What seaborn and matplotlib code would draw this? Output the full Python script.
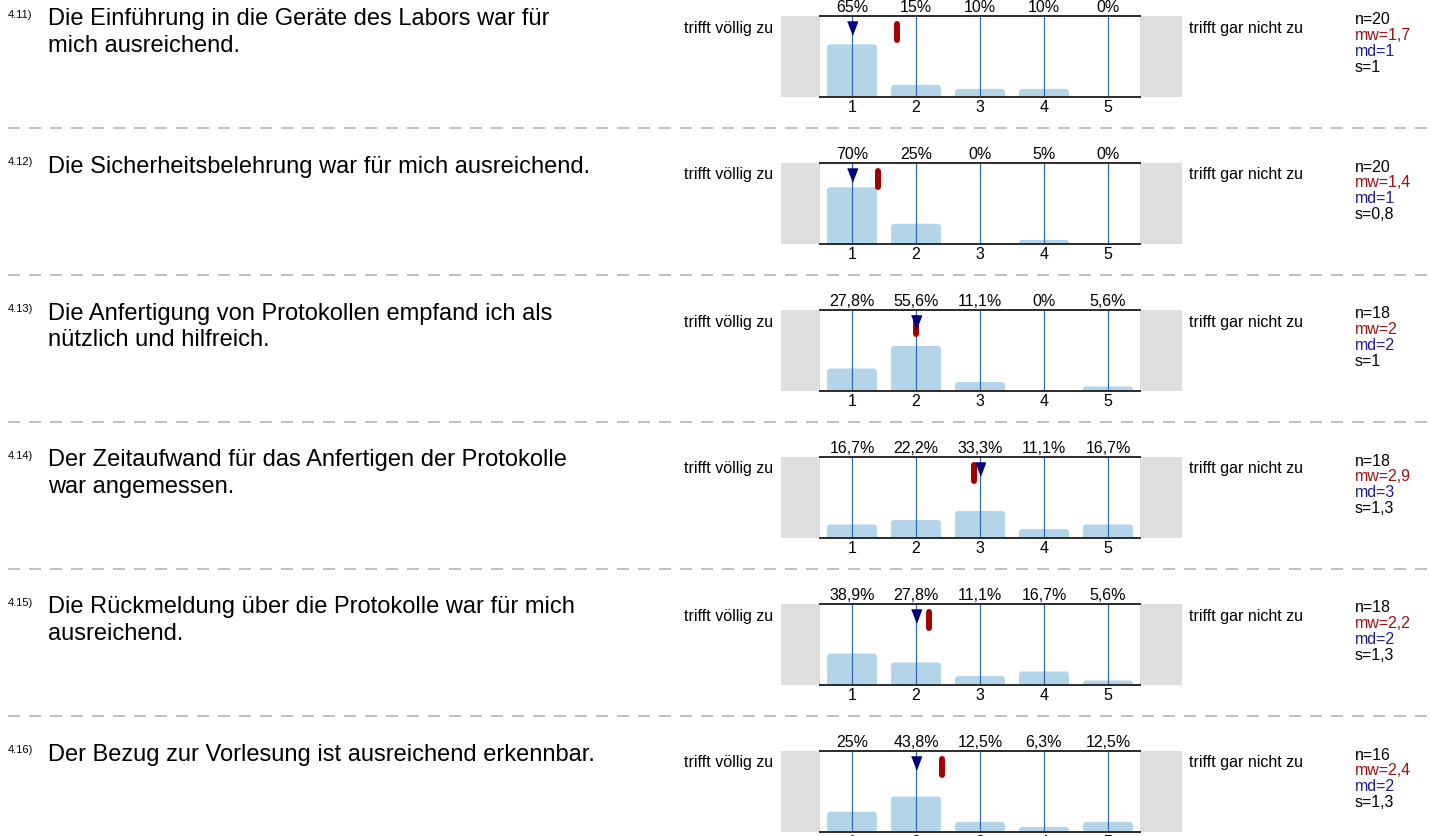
import matplotlib
matplotlib.use("Agg")
import matplotlib.pyplot as plt
import pandas as pd
import seaborn as sns
from matplotlib.patches import FancyBboxPatch, Rectangle
from matplotlib.lines import Line2D

# ---- survey data -------------------------------------------------------
item_ids = ["4.11)", "4.12)", "4.13)", "4.14)", "4.15)", "4.16)"]
questions = [
    "Die Einführung in die Geräte des Labors war für\nmich ausreichend.",
    "Die Sicherheitsbelehrung war für mich ausreichend.",
    "Die Anfertigung von Protokollen empfand ich als\nnützlich und hilfreich.",
    "Der Zeitaufwand für das Anfertigen der Protokolle\nwar angemessen.",
    "Die Rückmeldung über die Protokolle war für mich\nausreichend.",
    "Der Bezug zur Vorlesung ist ausreichend erkennbar.",
]
scale_points = [1, 2, 3, 4, 5]
pct_411 = [65, 15, 10, 10, 0]
pct_412 = [70, 25, 0, 5, 0]
pct_413 = [27.8, 55.6, 11.1, 0, 5.6]
pct_414 = [16.7, 22.2, 33.3, 11.1, 16.7]
pct_415 = [38.9, 27.8, 11.1, 16.7, 5.6]
pct_416 = [25, 43.8, 12.5, 6.3, 12.5]
n_values = [20, 20, 18, 18, 18, 16]
means = [1.7, 1.4, 2.0, 2.9, 2.2, 2.4]
medians = [1, 1, 2, 3, 2, 2]
std_devs = [1, 0.8, 1, 1.3, 1.3, 1.3]
pole_left = "trifft völlig zu"
pole_right = "trifft gar nicht zu"

percentages = [pct_411, pct_412, pct_413, pct_414, pct_415, pct_416]

# ---- styling -----------------------------------------------------------
W, H = 1431, 836
BAR = "#b4d4ea"
GRID_BLUE = "#2f6aab"
FRAME = "#2b2b2b"
SIDE_GREY = "#dedede"
MEAN_RED = "#a50000"
MEDIAN_BLUE = "#00007a"
MW_TEXT = "#9b1010"
MD_TEXT = "#1c1c8e"
SMALL = 11.5

sns.set_theme(style="white")
plt.rcParams["font.family"] = ["Liberation Sans", "DejaVu Sans"]

fig = plt.figure(figsize=(W / 100, H / 100), dpi=100)
fig.patch.set_facecolor("white")


def fx(x):
    return x / W


def fy(y):
    return 1 - y / H


def de(v):
    return ("%g" % v).replace(".", ",")


STEP = 147
AX_L, AX_W, AX_H = 820, 320, 81
px_x = AX_W / 5.0
px_y = AX_H / 100.0

tri = [(-0.38, 0.5), (0.38, 0.5), (0.0, -0.5)]

for k in range(len(item_ids)):
    dy = STEP * k
    top = 16 + dy
    bot = top + AX_H
    ax = fig.add_axes([fx(AX_L), fy(bot), AX_W / W, AX_H / H])
    ax.set_facecolor("white")

    df = pd.DataFrame({"Antwort": scale_points, "Anteil": percentages[k]})
    sns.barplot(data=df, x="Antwort", y="Anteil", native_scale=True,
                width=0.78, color=BAR, saturation=1, errorbar=None, ax=ax)

    # give the bars rounded tops
    r = 3.5 / px_x
    ext = 6 / px_y
    for p in list(ax.patches):
        x0, w, h = p.get_x(), p.get_width(), p.get_height()
        p.remove()
        if h <= 0:
            continue
        ax.add_patch(FancyBboxPatch((x0, -ext), w, h + ext,
                                    boxstyle=f"round,pad=0,rounding_size={r}",
                                    mutation_aspect=px_x / px_y,
                                    fc=BAR, ec="none", zorder=1))

    for c in scale_points:
        ax.axvline(c, color=GRID_BLUE, lw=0.9, zorder=2)

    ax.set_xlim(0.5, 5.5)
    ax.set_ylim(0, 100)
    ax.set_xlabel("")
    ax.set_ylabel("")
    ax.set_yticks([])
    ax.set_xticks(scale_points)
    ax.set_xticklabels([str(c) for c in scale_points])
    ax.tick_params(axis="x", length=0, pad=2.5, labelsize=SMALL, colors="black")
    for side in ("left", "right"):
        ax.spines[side].set_visible(False)
    for side in ("top", "bottom"):
        ax.spines[side].set_color(FRAME)
        ax.spines[side].set_linewidth(1.4)
        ax.spines[side].set_zorder(4)

    # grey end boxes
    ax.add_patch(Rectangle((-39 / AX_W, 0), 39 / AX_W, 1, transform=ax.transAxes,
                           clip_on=False, fc=SIDE_GREY, ec="none"))
    ax.add_patch(Rectangle((1, 0), 42 / AX_W, 1, transform=ax.transAxes,
                           clip_on=False, fc=SIDE_GREY, ec="none"))

    # percentages above the columns
    for c, v in zip(scale_points, percentages[k]):
        ax.annotate(de(v) + "%", xy=(c, 1), xycoords=("data", "axes fraction"),
                    xytext=(0, 6.3), textcoords="offset points",
                    ha="center", va="center", fontsize=SMALL, color="black")

    # mean (red bar) and median (blue triangle)
    ax.plot([means[k], means[k]], [90, 70.4], color=MEAN_RED, lw=4.3,
            solid_capstyle="round", zorder=5)
    ax.plot([medians[k]], [85.8], marker=tri, ms=9.4, color=MEDIAN_BLUE,
            lw=0, zorder=6)

    # poles
    fig.text(fx(773), fy(top + 12), pole_left, ha="right", va="center",
             fontsize=SMALL, color="black")
    fig.text(fx(1189), fy(top + 12), pole_right, ha="left", va="center",
             fontsize=SMALL, color="black")

    # statistics
    stats = [("n=%d" % n_values[k], "black"),
             ("mw=" + de(means[k]), MW_TEXT),
             ("md=" + de(medians[k]), MD_TEXT),
             ("s=" + de(std_devs[k]), "black")]
    for i, (s, col) in enumerate(stats):
        fig.text(fx(1355), fy(top + 4 + 15.7 * i), s, ha="left", va="center",
                 fontsize=SMALL, color=col)

    # item number and question
    fig.text(fx(8), fy(10 + dy), item_ids[k], ha="left", va="top",
             fontsize=8, color="black")
    fig.text(fx(48), fy(8.5 + dy), questions[k], ha="left", va="top",
             fontsize=17, linespacing=1.28, color="black")

    # dashed separator
    if k < len(item_ids) - 1:
        lw = 1.4
        fig.add_artist(Line2D([0, 1], [fy(128 + dy)] * 2, transform=fig.transFigure,
                              color="#c0c0c0", lw=lw,
                              linestyle=(13 * 0.72 / lw, (12 * 0.72 / lw, 9 * 0.72 / lw))))

fig.savefig("out.png", dpi=100, facecolor="white")
